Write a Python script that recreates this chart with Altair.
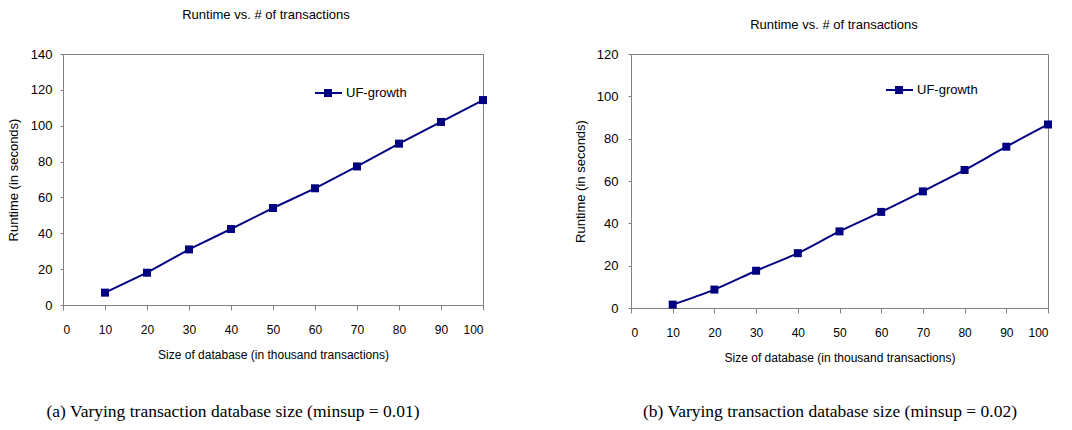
import altair as alt
import pandas as pd

# ---- data ----
DB_SIZE = [10, 20, 30, 40, 50, 60, 70, 80, 90, 100]
RUNTIME_A = [6.9, 18.0, 31.0, 42.4, 54.1, 65.1, 77.3, 90.0, 102.1, 114.3]
RUNTIME_B = [1.6, 8.7, 17.6, 25.9, 36.2, 45.4, 55.1, 65.2, 76.2, 86.7]
SERIES = "UF-growth"
X_TICKS = [0, 10, 20, 30, 40, 50, 60, 70, 80, 90, 100]
Y_TICKS_A = [0, 20, 40, 60, 80, 100, 120, 140]
Y_TICKS_B = [0, 20, 40, 60, 80, 100, 120]
CHART_TITLE = "Runtime vs. # of transactions"
X_TITLE = "Size of database (in thousand transactions)"
Y_TITLE = "Runtime (in seconds)"
CAPTION_A = "(a) Varying transaction database size (minsup = 0.01)"
CAPTION_B = "(b) Varying transaction database size (minsup = 0.02)"

NAVY = "#000080"
GRAY = "#808080"
SANS = "Liberation Sans"
SERIF = "Liberation Serif"


def panel(values, yticks, width, height, title_xy, caption, caption_xy,
          legend_xy, interp, y_label_pad, y_title_pad):
    df = pd.DataFrame({"size": DB_SIZE, "runtime": values, "series": SERIES})
    x = alt.X("size:Q", scale=alt.Scale(domain=[0, 100], nice=False),
              axis=alt.Axis(values=X_TICKS, title=X_TITLE, grid=False,
                            tickSize=5, labelPadding=14, titlePadding=14,
                            labelFont=SANS, labelFontSize=12, titleFont=SANS,
                            titleFontSize=12, titleFontWeight="normal",
                            domainColor=GRAY, tickColor=GRAY,
                            labelColor="black", titleColor="black"))
    y = alt.Y("runtime:Q",
              scale=alt.Scale(domain=[yticks[0], yticks[-1]], nice=False),
              axis=alt.Axis(values=yticks, title=Y_TITLE, grid=False,
                            tickSize=3, labelPadding=y_label_pad,
                            titlePadding=y_title_pad,
                            labelFont=SANS, labelFontSize=13, titleFont=SANS,
                            titleFontSize=13, titleFontWeight="normal",
                            domainColor=GRAY, tickColor=GRAY,
                            labelColor="black", titleColor="black"))
    base = alt.Chart(df)
    line = base.mark_line(color=NAVY, strokeWidth=2, interpolate=interp).encode(x=x, y=y)
    pts = base.mark_point(shape="square", filled=True, size=64, color=NAVY,
                          opacity=1).encode(x=x, y=y)

    info = pd.DataFrame({"s": [SERIES], "t": [CHART_TITLE], "c": [caption]})
    ib = alt.Chart(info)
    lx, ly = legend_xy
    leg_rule = ib.mark_rule(color=NAVY, strokeWidth=2).encode(
        x=alt.value(lx), x2=alt.value(lx + 27), y=alt.value(ly))
    leg_pt = ib.mark_point(shape="square", filled=True, size=64, color=NAVY,
                           opacity=1).encode(x=alt.value(lx + 13), y=alt.value(ly))
    leg_txt = ib.mark_text(align="left", baseline="middle", font=SANS,
                           fontSize=13, color="black").encode(
        x=alt.value(lx + 31), y=alt.value(ly), text="s:N")
    ttl = ib.mark_text(align="center", baseline="middle", font=SANS,
                       fontSize=13, color="black").encode(
        x=alt.value(title_xy[0]), y=alt.value(title_xy[1]), text="t:N")
    cap = ib.mark_text(align="center", baseline="middle", font=SERIF,
                       fontSize=17.5, color="black").encode(
        x=alt.value(caption_xy[0]), y=alt.value(caption_xy[1]), text="c:N")
    return alt.layer(line, pts, leg_rule, leg_pt, leg_txt, ttl, cap).properties(
        width=width, height=height)


p1 = panel(RUNTIME_A, Y_TICKS_A, 420, 251, (203, -39), CAPTION_A, (170, 358),
           (252, 39), "linear", 8, 10)
p2 = panel(RUNTIME_B, Y_TICKS_B, 417, 254, (203, -29), CAPTION_B, (199, 358),
           (255, 36), "monotone", 10, 9)

chart = alt.hconcat(p1, p2, spacing=148, bounds="flush").properties(
    padding={"left": 6, "top": 8, "right": 0, "bottom": 0}
).configure_view(stroke=GRAY, strokeWidth=1)

chart.save("out.html", embed_options={"renderer": "svg", "actions": False})
